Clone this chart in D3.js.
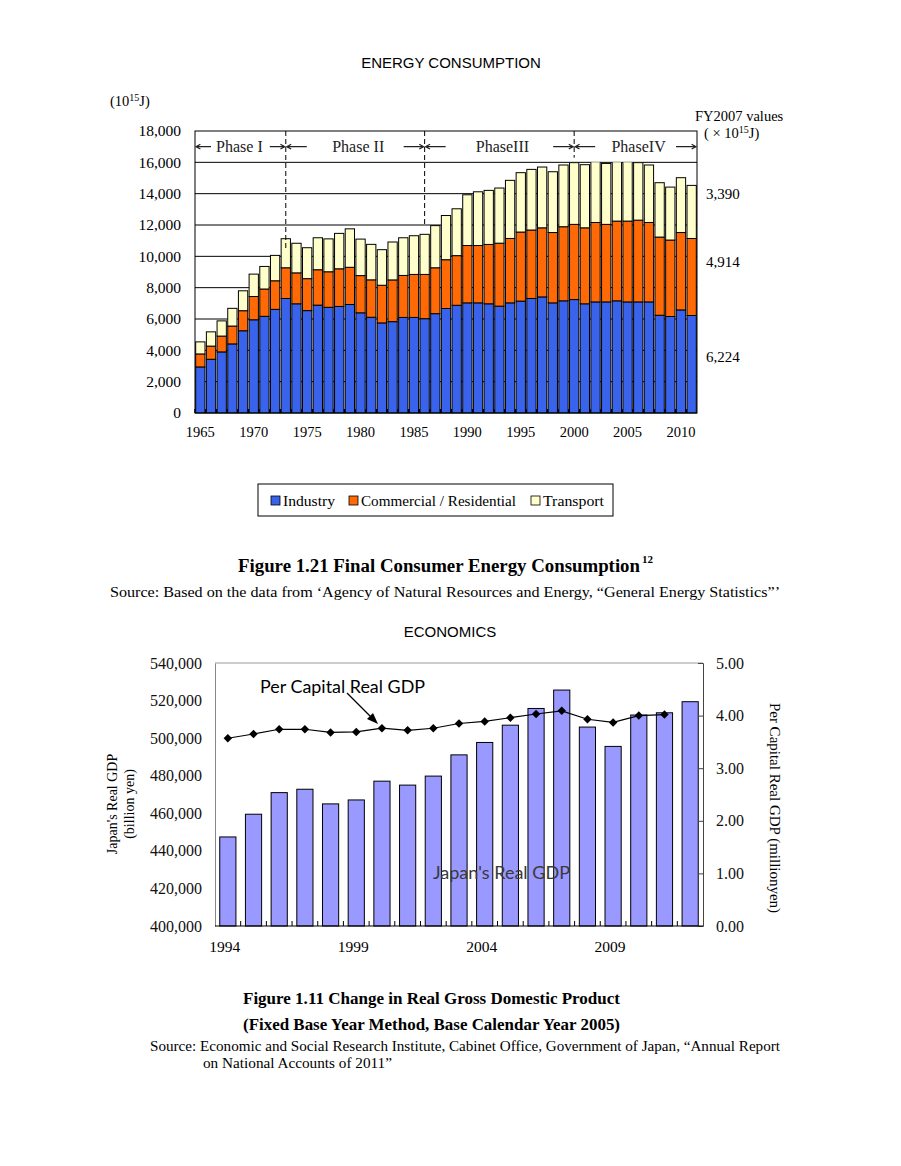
<!DOCTYPE html>
<html>
<head>
<meta charset="utf-8">
<script src="https://cdn.jsdelivr.net/npm/d3@7"></script>
<style>
  body { margin: 0; background: #fff; }
  svg { display: block; }
  .serif { font-family: "Liberation Serif", "Times New Roman", serif; }
  .sans { font-family: "Liberation Sans", Arial, sans-serif; }
  .calibri { font-family: Lato, "Open Sans", sans-serif; }
</style>
</head>
<body>
<script>
// Energy consumption data (10^15 J)
const energyYears = [1965, 1966, 1967, 1968, 1969, 1970, 1971, 1972, 1973, 1974,
  1975, 1976, 1977, 1978, 1979, 1980, 1981, 1982, 1983, 1984,
  1985, 1986, 1987, 1988, 1989, 1990, 1991, 1992, 1993, 1994,
  1995, 1996, 1997, 1998, 1999, 2000, 2001, 2002, 2003, 2004,
  2005, 2006, 2007, 2008, 2009, 2010, 2011]
const industry = [2940, 3430, 3900, 4410, 5250, 5950, 6170, 6615, 7310, 6970,
  6535, 6885, 6745, 6800, 6925, 6395, 6110, 5750, 5830, 6100,
  6100, 6020, 6340, 6670, 6875, 7030, 7030, 6970, 6820, 7030,
  7140, 7310, 7410, 7030, 7160, 7240, 6970, 7090, 7090, 7160,
  7090, 7090, 7090, 6240, 6160, 6580, 6224]
const commercial = [830, 840, 1010, 1140, 1280, 1485, 1745, 1825, 1960, 1975,
  2040, 2260, 2270, 2405, 2375, 2375, 2390, 2405, 2665, 2680,
  2745, 2825, 2930, 3115, 3170, 3660, 3660, 3790, 4020, 4110,
  4410, 4370, 4410, 4490, 4730, 4800, 4850, 5070, 4950, 5090,
  5160, 5220, 5070, 4990, 4880, 4940, 4914]
const transport = [770, 910, 970, 1130, 1270, 1430, 1440, 1620, 1855, 1890,
  1975, 2040, 2100, 2260, 2455, 2330, 2265, 2270, 2420, 2405,
  2470, 2560, 2690, 2820, 2990, 3240, 3430, 3450, 3520, 3710,
  3790, 3870, 3880, 3880, 3940, 3940, 4030, 3900, 3890, 3850,
  3850, 3670, 3670, 3470, 3380, 3500, 3390]
const energyKeys = ['industry', 'commercial', 'transport']
const energyLabels = ['Industry', 'Commercial / Residential', 'Transport']
const energyColors = ['#3a63ec', '#ff6a06', '#ffffcc']
const energyTicks = [0, 2000, 4000, 6000, 8000, 10000, 12000, 14000, 16000, 18000]
const energyYearLabels = [1965, 1970, 1975, 1980, 1985, 1990, 1995, 2000, 2005, 2010]
const fyValues = ['6,224', '4,914', '3,390']
const phaseNames = ['Phase I', 'Phase II', 'PhaseIII', 'PhaseIV']
const phaseBounds = [1973, 1986, 2000]
const phaseLineEnds = [10400, 12000, 16300]

// Economics data
const gdpYears = [1994, 1995, 1996, 1997, 1998, 1999, 2000, 2001, 2002, 2003,
  2004, 2005, 2006, 2007, 2008, 2009, 2010, 2011, 2012]
const realGdp = [447400, 459500, 471000, 472800, 465000, 467100, 477100, 475000, 479800, 491100,
  497700, 506900, 515800, 525600, 505900, 495600, 512300, 513500, 519400]
const perCapitaGdp = [3.57, 3.65, 3.74, 3.74, 3.68, 3.69, 3.76, 3.72, 3.76, 3.85,
  3.89, 3.96, 4.03, 4.09, 3.93, 3.87, 4.00, 4.02]
const gdpTicks = [400000, 420000, 440000, 460000, 480000, 500000, 520000, 540000]
const perCapitaTicks = [0, 1, 2, 3, 4, 5]
const gdpYearLabels = [1994, 1999, 2004, 2009]

const svg = d3.select('body').append('svg')
  .attr('width', 901)
  .attr('height', 1166)

function sup (sel, before, power, after, size) {
  sel.append('tspan').text(before)
  sel.append('tspan').attr('dy', -5).style('font-size', size + 'px').text(power)
  sel.append('tspan').attr('dy', 5).text(after)
}

function arrowPath (x0, y0, x1, y1, head) {
  const a = Math.atan2(y1 - y0, x1 - x0)
  const h1 = [x1 - head * Math.cos(a - 0.5), y1 - head * Math.sin(a - 0.5)]
  const h2 = [x1 - head * Math.cos(a + 0.5), y1 - head * Math.sin(a + 0.5)]
  return `M${x0},${y0}L${x1},${y1}M${h1[0]},${h1[1]}L${x1},${y1}L${h2[0]},${h2[1]}`
}

// ---------- Energy chart ----------
function drawEnergy () {
  const left = 195, right = 697, top = 131, bottom = 413
  const x = d3.scaleBand().domain(energyYears).range([left, right])
    .paddingInner(0.13).paddingOuter(0.065)
  const y = d3.scaleLinear().domain([0, 18000]).range([bottom, top])

  const rows = energyYears.map((yr, i) => ({
    year: yr, industry: industry[i], commercial: commercial[i], transport: transport[i]
  }))
  const series = d3.stack().keys(energyKeys)(rows)

  svg.append('text').attr('class', 'sans')
    .attr('x', 451).attr('y', 68).attr('text-anchor', 'middle')
    .style('font-size', '15px').text('ENERGY CONSUMPTION')

  const unit = svg.append('text').attr('class', 'serif')
    .attr('x', 110).attr('y', 106).style('font-size', '14.5px')
  sup(unit, '(10', '15', 'J)', 10)

  // grid
  svg.append('g').selectAll('line')
    .data(energyTicks.filter(d => d <= 16000))
    .join('line')
    .attr('x1', left).attr('x2', right)
    .attr('y1', d => y(d)).attr('y2', d => y(d))
    .attr('stroke', '#000').attr('stroke-width', 1)

  svg.append('clipPath').attr('id', 'eclip')
    .append('rect')
    .attr('x', left).attr('y', y(16000))
    .attr('width', right - left).attr('height', y(0) - y(16000))

  svg.append('g').attr('clip-path', 'url(#eclip)')
    .selectAll('g')
    .data(series)
    .join('g')
    .attr('fill', (d, i) => energyColors[i])
    .selectAll('rect')
    .data(d => d)
    .join('rect')
    .attr('x', d => x(d.data.year))
    .attr('width', x.bandwidth())
    .attr('y', d => y(d[1]))
    .attr('height', d => y(d[0]) - y(d[1]))
    .attr('stroke', '#000').attr('stroke-width', 1)

  // small base ticks between bars
  svg.append('g').selectAll('line')
    .data(energyYears)
    .join('line')
    .attr('x1', d => x(d) - x.step() * 0.065)
    .attr('x2', d => x(d) - x.step() * 0.065)
    .attr('y1', bottom).attr('y2', bottom - 4)
    .attr('stroke', '#000').attr('stroke-width', 1.5)

  svg.append('rect')
    .attr('x', left).attr('y', top)
    .attr('width', right - left).attr('height', bottom - top)
    .attr('fill', 'none').attr('stroke', '#000').attr('stroke-width', 1)

  // y axis
  const ya = svg.append('g').attr('transform', `translate(${left},0)`)
    .call(d3.axisLeft(y).tickValues(energyTicks).tickSize(0).tickPadding(14)
      .tickFormat(d3.format(',')))
  ya.select('.domain').remove()
  ya.selectAll('text').attr('class', 'serif').style('font-size', '15.5px').attr('fill', '#000')
    .attr('font-family', null)

  // x labels
  svg.append('g').selectAll('text')
    .data(energyYearLabels)
    .join('text')
    .attr('class', 'serif')
    .attr('x', d => x(d) + x.bandwidth() / 2)
    .attr('y', 437)
    .attr('text-anchor', 'middle')
    .style('font-size', '14.5px')
    .text(d => d)

  // phase boundaries
  const bx = d => x(d) + x.bandwidth() / 2
  svg.append('g').selectAll('line')
    .data(phaseBounds)
    .join('line')
    .attr('x1', d => bx(d)).attr('x2', d => bx(d))
    .attr('y1', top).attr('y2', (d, i) => y(phaseLineEnds[i]))
    .attr('stroke', '#000').attr('stroke-width', 1)
    .attr('stroke-dasharray', '5,3')

  const edges = [left].concat(phaseBounds.map(bx), [right])
  const phaseY = (top + y(16000)) / 2
  const pg = svg.append('g')
  phaseNames.forEach((name, i) => {
    const a = edges[i] + 1, b = edges[i + 1] - 1
    const len = i === 0 ? 15 : 20
    pg.append('text').attr('class', 'serif')
      .attr('x', (a + b) / 2 + (i === 0 ? -1 : 3)).attr('y', phaseY + 5)
      .attr('text-anchor', 'middle').attr('fill', '#222')
      .style('font-size', '16px').text(name)
    pg.append('path').attr('d', arrowPath(a + len, phaseY, a, phaseY, 5))
      .attr('fill', 'none').attr('stroke', '#222').attr('stroke-width', 1.2)
    pg.append('path').attr('d', arrowPath(b - len, phaseY, b, phaseY, 5))
      .attr('fill', 'none').attr('stroke', '#222').attr('stroke-width', 1.2)
  })

  // FY2007 value labels
  svg.append('text').attr('class', 'serif')
    .attr('x', 695).attr('y', 121).style('font-size', '14.5px').text('FY2007 values')
  const u2 = svg.append('text').attr('class', 'serif')
    .attr('x', 704).attr('y', 138).style('font-size', '14.5px')
  sup(u2, '( × 10', '15', 'J)', 10)

  const ref = energyYears.indexOf(2007)
  svg.append('g').selectAll('text')
    .data(series)
    .join('text')
    .attr('class', 'serif')
    .attr('x', 706)
    .attr('y', d => y((d[ref][0] + d[ref][1]) / 2) + 5)
    .style('font-size', '15px')
    .text((d, i) => fyValues[i])

  // legend
  svg.append('rect')
    .attr('x', 258).attr('y', 484).attr('width', 355).attr('height', 32)
    .attr('fill', '#fff').attr('stroke', '#000').attr('stroke-width', 1)
  const legX = [271, 349, 531]
  const legW = [52, 155, 61]
  const lg = svg.append('g').selectAll('g')
    .data(energyLabels)
    .join('g')
    .attr('transform', (d, i) => `translate(${legX[i]},496)`)
  lg.append('rect').attr('width', 9).attr('height', 9)
    .attr('fill', (d, i) => energyColors[i]).attr('stroke', '#000').attr('stroke-width', 0.8)
  lg.append('text').attr('class', 'serif')
    .attr('x', 12).attr('y', 9.5).style('font-size', '15px')
    .attr('textLength', (d, i) => legW[i]).attr('lengthAdjust', 'spacingAndGlyphs')
    .text(d => d)

  const cap = svg.append('text').attr('class', 'serif')
    .attr('x', 238).attr('y', 572)
    .style('font-size', '18px').style('font-weight', 'bold')
  cap.append('tspan').attr('textLength', 402).attr('lengthAdjust', 'spacingAndGlyphs')
    .text('Figure 1.21 Final Consumer Energy Consumption')
  cap.append('tspan').attr('dy', -9).attr('dx', 2).style('font-size', '11px').text('12')

  svg.append('text').attr('class', 'serif')
    .attr('x', 110).attr('y', 597).style('font-size', '14.5px')
    .attr('textLength', 670).attr('lengthAdjust', 'spacingAndGlyphs')
    .text('Source: Based on the data from \u2018Agency of Natural Resources and Energy, \u201cGeneral Energy Statistics\u201d\u2019')
}

// ---------- Economics chart ----------
function drawEconomics () {
  const left = 215, right = 703, top = 663, bottom = 926
  const x = d3.scaleBand().domain(gdpYears).range([left, right])
    .paddingInner(0.37).paddingOuter(0.185)
  const yL = d3.scaleLinear().domain([400000, 540000]).range([bottom, top])
  const yR = d3.scaleLinear().domain([0, 5]).range([bottom, top])

  svg.append('text').attr('class', 'sans')
    .attr('x', 450).attr('y', 637).attr('text-anchor', 'middle')
    .style('font-size', '15px').text('ECONOMICS')

  // frame
  svg.append('line').attr('x1', left).attr('x2', right).attr('y1', top).attr('y2', top)
    .attr('stroke', '#999').attr('stroke-width', 1)

  svg.append('g').selectAll('rect')
    .data(realGdp)
    .join('rect')
    .attr('x', (d, i) => x(gdpYears[i]))
    .attr('width', x.bandwidth())
    .attr('y', d => yL(d))
    .attr('height', d => yL(400000) - yL(d))
    .attr('fill', '#9999ff').attr('stroke', '#000').attr('stroke-width', 1)

  const la = svg.append('g').attr('transform', `translate(${left},0)`)
    .call(d3.axisLeft(yL).tickValues(gdpTicks).tickSize(0).tickPadding(13)
      .tickFormat(d3.format(',')))
  la.select('.domain').attr('stroke', '#888')
  la.selectAll('text').attr('class', 'serif').attr('font-family', null)
    .style('font-size', '16px').attr('fill', '#111')

  const ra = svg.append('g').attr('transform', `translate(${right},0)`)
    .call(d3.axisRight(yR).tickValues(perCapitaTicks).tickSize(-5).tickPadding(13)
      .tickFormat(d3.format('.2f')))
  ra.select('.domain').attr('stroke', '#444')
  ra.selectAll('line').attr('stroke', '#444')
  ra.selectAll('text').attr('class', 'serif').attr('font-family', null)
    .style('font-size', '16px').attr('fill', '#111')

  // bottom axis with inward ticks between bars
  svg.append('line').attr('x1', left).attr('x2', right).attr('y1', bottom).attr('y2', bottom)
    .attr('stroke', '#000').attr('stroke-width', 1.2)
  svg.append('g').selectAll('line')
    .data(gdpYears.slice(1))
    .join('line')
    .attr('x1', d => x(d) - x.step() * 0.185).attr('x2', d => x(d) - x.step() * 0.185)
    .attr('y1', bottom).attr('y2', bottom - 5)
    .attr('stroke', '#000')
  svg.append('g').selectAll('text')
    .data(gdpYearLabels)
    .join('text')
    .attr('class', 'serif')
    .attr('x', d => x(d) + x.bandwidth() / 2 - 3)
    .attr('y', 952)
    .attr('text-anchor', 'middle')
    .style('font-size', '15.5px')
    .text(d => d)

  // per capita line
  const cx = (d, i) => x(gdpYears[i]) + x.bandwidth() / 2
  svg.append('path')
    .datum(perCapitaGdp)
    .attr('d', d3.line().x(cx).y(d => yR(d)))
    .attr('fill', 'none').attr('stroke', '#000').attr('stroke-width', 1.2)
  svg.append('g').selectAll('path')
    .data(perCapitaGdp)
    .join('path')
    .attr('d', d3.symbol(d3.symbolSquare, 36))
    .attr('transform', (d, i) => `translate(${cx(d, i)},${yR(d)}) rotate(45)`)
    .attr('fill', '#000')

  // annotations
  svg.append('text').attr('class', 'calibri')
    .attr('x', 260).attr('y', 693).style('font-size', '18px')
    .attr('textLength', 165).attr('lengthAdjust', 'spacingAndGlyphs')
    .text('Per Capital Real GDP')
  svg.append('path').attr('d', 'M347,693L371,717')
    .attr('stroke', '#000').attr('stroke-width', 1.3)
  svg.append('path').attr('d', 'M378,724L367,719L373,713Z').attr('fill', '#000')

  svg.append('text').attr('class', 'calibri')
    .attr('x', 433).attr('y', 879).style('font-size', '17px').attr('fill', '#3a3a3a')
    .attr('textLength', 137).attr('lengthAdjust', 'spacingAndGlyphs')
    .text("Japan's Real GDP")

  svg.append('text').attr('class', 'serif')
    .attr('transform', 'translate(112,804) rotate(-90)')
    .attr('text-anchor', 'middle').attr('dy', '0.35em')
    .style('font-size', '14px').text("Japan's Real GDP")
  svg.append('text').attr('class', 'serif')
    .attr('transform', 'translate(129,804) rotate(-90)')
    .attr('text-anchor', 'middle').attr('dy', '0.35em')
    .style('font-size', '14px').text('(billion yen)')
  svg.append('text').attr('class', 'serif')
    .attr('transform', 'translate(775,808) rotate(90)')
    .attr('text-anchor', 'middle').attr('dy', '0.35em')
    .style('font-size', '15px').text('Per Capital Real GDP (millionyen)')

  // captions
  svg.append('text').attr('class', 'serif')
    .attr('x', 243).attr('y', 1004).style('font-size', '17px').style('font-weight', 'bold')
    .attr('textLength', 377).attr('lengthAdjust', 'spacingAndGlyphs')
    .text('Figure 1.11 Change in Real Gross Domestic Product')
  svg.append('text').attr('class', 'serif')
    .attr('x', 243).attr('y', 1030).style('font-size', '17px').style('font-weight', 'bold')
    .attr('textLength', 377).attr('lengthAdjust', 'spacingAndGlyphs')
    .text('(Fixed Base Year Method, Base Calendar Year 2005)')
  svg.append('text').attr('class', 'serif')
    .attr('x', 150).attr('y', 1051).style('font-size', '14.5px')
    .attr('textLength', 630).attr('lengthAdjust', 'spacingAndGlyphs')
    .text('Source: Economic and Social Research Institute, Cabinet Office, Government of Japan, \u201cAnnual Report')
  svg.append('text').attr('class', 'serif')
    .attr('x', 203).attr('y', 1068).style('font-size', '14.5px')
    .attr('textLength', 189).attr('lengthAdjust', 'spacingAndGlyphs')
    .text('on National Accounts of 2011\u201d')
}

drawEnergy()
drawEconomics()
</script>
</body>
</html>
